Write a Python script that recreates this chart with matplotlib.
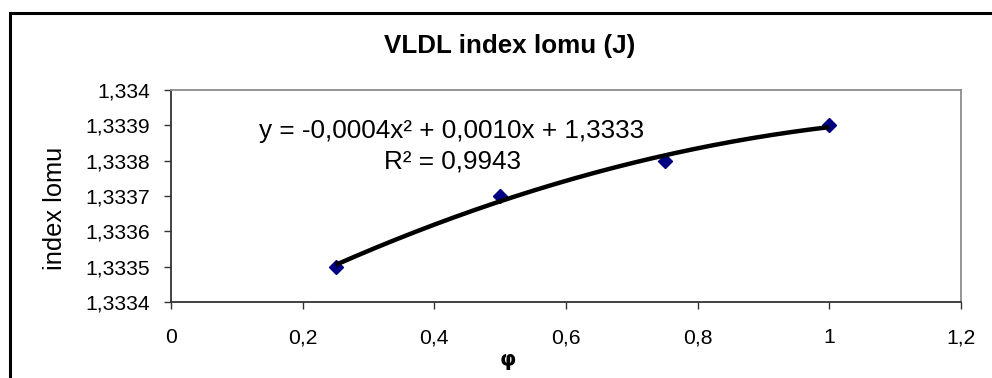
import numpy as np
import matplotlib
matplotlib.use('Agg')
import matplotlib.pyplot as plt
from matplotlib.patches import Rectangle
from matplotlib.ticker import FuncFormatter, MultipleLocator

plt.rcParams['font.family'] = ['Liberation Sans', 'DejaVu Sans']

# ── Data ──────────────────────────────────────────────────────────────────────
phi = [0.25, 0.5, 0.75, 1.0]
index_lomu = [1.3335, 1.3337, 1.3338, 1.3339]
equation = 'y = -0,0004x² + 0,0010x + 1,3333'
r_squared = 'R² = 0,9943'

W, H = 992, 378
AX_L, AX_R, AX_T, AX_B = 171, 961, 90, 302

fig = plt.figure(figsize=(W / 100, H / 100), dpi=100)
ax = fig.add_axes([AX_L / W, 1 - AX_B / H, (AX_R - AX_L) / W, (AX_B - AX_T) / H])

# polynomial trendline (order 2) fitted to the points
coef = np.polyfit(phi, index_lomu, 2)
xs = np.linspace(min(phi), max(phi), 200)
ax.plot(phi, index_lomu, linestyle='none', marker='D', markersize=7,
        color='#000080', zorder=3)
ax.plot(xs, np.polyval(coef, xs), color='black', linewidth=3.2, zorder=4,
        solid_capstyle='butt')

ax.set_xlim(0, 1.2)
ax.set_ylim(1.3334, 1.3340)
ax.xaxis.set_major_locator(MultipleLocator(0.2))
ax.yaxis.set_major_locator(MultipleLocator(0.0001))
fmt = FuncFormatter(lambda v, _: f'{round(v, 4):g}'.replace('.', ','))
ax.xaxis.set_major_formatter(fmt)
ax.yaxis.set_major_formatter(fmt)
ax.tick_params(direction='out', length=5, width=1, colors='#333333',
               labelcolor='black', labelsize=15.2)
ax.tick_params(axis='x', pad=14)
ax.tick_params(axis='y', pad=10)

for s in ('left', 'bottom'):
    ax.spines[s].set_color('#333333')
    ax.spines[s].set_linewidth(1.3)
for s in ('top', 'right'):
    ax.spines[s].set_color('#8c8c8c')
    ax.spines[s].set_linewidth(1.3)

ax.text(452 / W, 1 - 131 / H, equation, transform=fig.transFigure,
        ha='center', va='center', fontsize=18.8)
ax.text(452 / W, 1 - 161 / H, r_squared, transform=fig.transFigure,
        ha='center', va='center', fontsize=18.8)

fig.text(510 / W, 1 - 46 / H, 'VLDL index lomu (J)', ha='center',
         va='center', fontsize=18.7, fontweight='bold')
fig.text(55 / W, 1 - 208 / H, 'index lomu', rotation=90, ha='center',
         va='center', fontsize=18.3)
fig.text(508 / W, 1 - 360 / H, 'φ', ha='center', va='center',
         fontsize=15, fontweight='bold', family=['DejaVu Sans'])

# chart-area border (runs off the right and bottom edges)
fig.patches.append(Rectangle((10 / W, -0.2), 1.2, 1 - 13 / H + 0.2,
                             transform=fig.transFigure, fill=False,
                             edgecolor='black', linewidth=2.2))

fig.savefig('out.png', dpi=100, facecolor='white')
